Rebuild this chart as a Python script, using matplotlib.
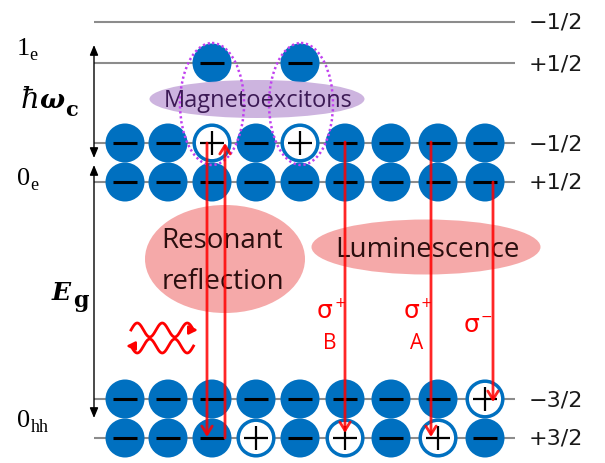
import numpy as np
import matplotlib.pyplot as plt
from matplotlib.patches import Circle, Ellipse

# Landau levels (top to bottom): vertical position and spin projection
level_y = [22, 63, 143, 182, 399, 438]
spin_labels = ['\u22121/2', '+1/2', '\u22121/2', '+1/2', '\u22123/2', '+3/2']

# Column positions of the carriers and level occupancy
# 'e' = filled state (electron), 'h' = empty state (hole), '.' = nothing drawn
column_x = [125, 168, 212, 256, 300, 345, 391, 438, 485]
occupancy = [
    '.........',
    '..e.e....',
    'eeheheeee',
    'eeeeeeeee',
    'eeeeeeeeh',
    'eeehehehe',
]

# Optical transitions: (x, start y, end y)
reflection_arrows = [(207, 143, 437), (225, 438, 143)]
luminescence_arrows = [(345, 142, 433), (431, 142, 437), (493, 182, 402)]
# polarisation labels: (sign, line label, x of sigma, baseline of sigma)
polarisation_labels = [('+', 'B', 325, 318), ('+', 'A', 412, 318), ('\u2212', '', 472, 332)]

BLUE = '#0070C0'
RED = '#FF0000'
GRAY = '#8C8C8C'

fig = plt.figure(figsize=(6.05, 4.63), dpi=100)
ax = fig.add_axes([0, 0, 1, 1])
ax.set_xlim(0, 605)
ax.set_ylim(463, 0)
ax.set_aspect('equal')
ax.axis('off')

# level lines and spin labels
for y, lab in zip(level_y, spin_labels):
    ax.plot([94, 515], [y, y], color=GRAY, lw=1.5, zorder=1, solid_capstyle='butt')
    ax.text(529, y + 1, lab, fontsize=16, family='DejaVu Sans', color='#1a1a1a',
            ha='left', va='center')

# carriers
R = 19.5
for y, row in zip(level_y, occupancy):
    for x, s in zip(column_x, row):
        if s == 'e':
            ax.add_patch(Circle((x, y), R, facecolor=BLUE, edgecolor='none', zorder=2))
            ax.plot([x - 12, x + 12], [y, y], color='black', lw=2.2, zorder=3,
                    solid_capstyle='butt')
        elif s == 'h':
            ax.add_patch(Circle((x, y), R - 1.7, facecolor='white', edgecolor=BLUE,
                                lw=2.5, zorder=2))
            ax.plot([x - 12, x + 12], [y, y], color='black', lw=1.6, zorder=3,
                    solid_capstyle='butt')
            ax.plot([x, x], [y - 12, y + 12], color='black', lw=1.6, zorder=3,
                    solid_capstyle='butt')

# highlighted regions
ax.add_patch(Ellipse((257, 99), 215, 38, facecolor='#C8ACDC', edgecolor='none',
                     alpha=0.9, zorder=4))
for cx in (212, 301):
    ax.add_patch(Ellipse((cx, 104), 64, 122, facecolor='none', edgecolor='#C040F0',
                         lw=1.8, linestyle=(0, (0.9, 1.1)), zorder=5))
ax.add_patch(Ellipse((225, 259), 160, 108, facecolor='#F5A9A9', edgecolor='none',
                     zorder=4))
ax.add_patch(Ellipse((426, 247), 229, 55, facecolor='#F5A9A9', edgecolor='none',
                     zorder=4))

ax.text(258, 107, 'Magnetoexcitons', fontsize=17, family='Open Sans',
        color='#3C1A55', ha='center', va='baseline', zorder=6)
ax.text(222, 248, 'Resonant', fontsize=20, family='Open Sans', color='#2A0E0E',
        ha='center', va='baseline', zorder=6)
ax.text(223, 289, 'reflection', fontsize=20, family='Open Sans', color='#2A0E0E',
        ha='center', va='baseline', zorder=6)
ax.text(427, 257, 'Luminescence', fontsize=20, family='Open Sans', color='#2A0E0E',
        ha='center', va='baseline', zorder=6)

# optical transitions
arrow_kw = dict(arrowstyle='->,head_length=0.4,head_width=0.25', color=RED, lw=2,
                alpha=0.85, shrinkA=0, shrinkB=0, mutation_scale=15)
for x, y0, y1 in reflection_arrows + luminescence_arrows:
    ax.annotate('', xy=(x, y1), xytext=(x, y0), arrowprops=arrow_kw, zorder=7)

for sign, letter, x, yb in polarisation_labels:
    ax.text(x, yb, '\u03c3', fontsize=18, family='DejaVu Sans', color=RED,
            ha='center', va='baseline')
    ax.text(x + 9, yb - 11, sign, fontsize=10, family='DejaVu Sans', color=RED,
            ha='left', va='baseline')
    if letter:
        ax.text(x + 5, 349, letter, fontsize=15, family='Open Sans', color=RED,
                ha='center', va='baseline')

# photon symbol: two counter-propagating waves
t = np.linspace(0, 2.5, 200)
xw = 131 + 25 * t
ax.plot(xw, 330 - 7 * np.sin(2 * np.pi * t), color=RED, lw=2)
ax.plot(xw, 346 + 7 * np.sin(2 * np.pi * t), color=RED, lw=2)
wave_head = dict(arrowstyle='-|>,head_length=0.5,head_width=0.25', color=RED, lw=1.8,
                 shrinkA=0, shrinkB=0, mutation_scale=10)
ax.annotate('', xy=(198, 330), xytext=(191, 330), arrowprops=wave_head)
ax.annotate('', xy=(126, 346), xytext=(133, 346), arrowprops=wave_head)

# energy scale arrows
black_kw = dict(arrowstyle='<|-|>,head_length=0.6,head_width=0.25', color='black',
                lw=1.0, shrinkA=0, shrinkB=0, mutation_scale=10)
ax.annotate('', xy=(94, 45), xytext=(94, 158), arrowprops=black_kw)
ax.annotate('', xy=(94, 165), xytext=(94, 418), arrowprops=black_kw)

# left-hand labels
serif = 'Liberation Serif'
ax.text(17, 55, '1', fontsize=19, family=serif, ha='left', va='baseline')
ax.text(29, 60, 'e', fontsize=13, family=serif, ha='left', va='baseline')
ax.text(17, 185, '0', fontsize=19, family=serif, ha='left', va='baseline')
ax.text(30, 190, 'e', fontsize=13, family=serif, ha='left', va='baseline')
ax.text(17, 427, '0', fontsize=19, family=serif, ha='left', va='baseline')
ax.text(31, 432, 'hh', fontsize=13, family=serif, ha='left', va='baseline')

ax.text(21, 108, '\u0127', fontsize=21, family='DejaVu Serif', style='italic',
        ha='left', va='baseline')
ax.text(39, 108, '\u03c9', fontsize=19, family='DejaVu Serif', style='italic',
        weight='bold', ha='left', va='baseline')
ax.text(65, 116, 'c', fontsize=15, family='DejaVu Serif', weight='bold',
        ha='left', va='baseline')

ax.text(52, 300, 'E', fontsize=18, family='DejaVu Serif', style='italic',
        weight='bold', ha='left', va='baseline')
ax.text(73, 307, 'g', fontsize=16, family='DejaVu Serif', weight='bold',
        ha='left', va='baseline')

fig.savefig('out.png', dpi=100)
